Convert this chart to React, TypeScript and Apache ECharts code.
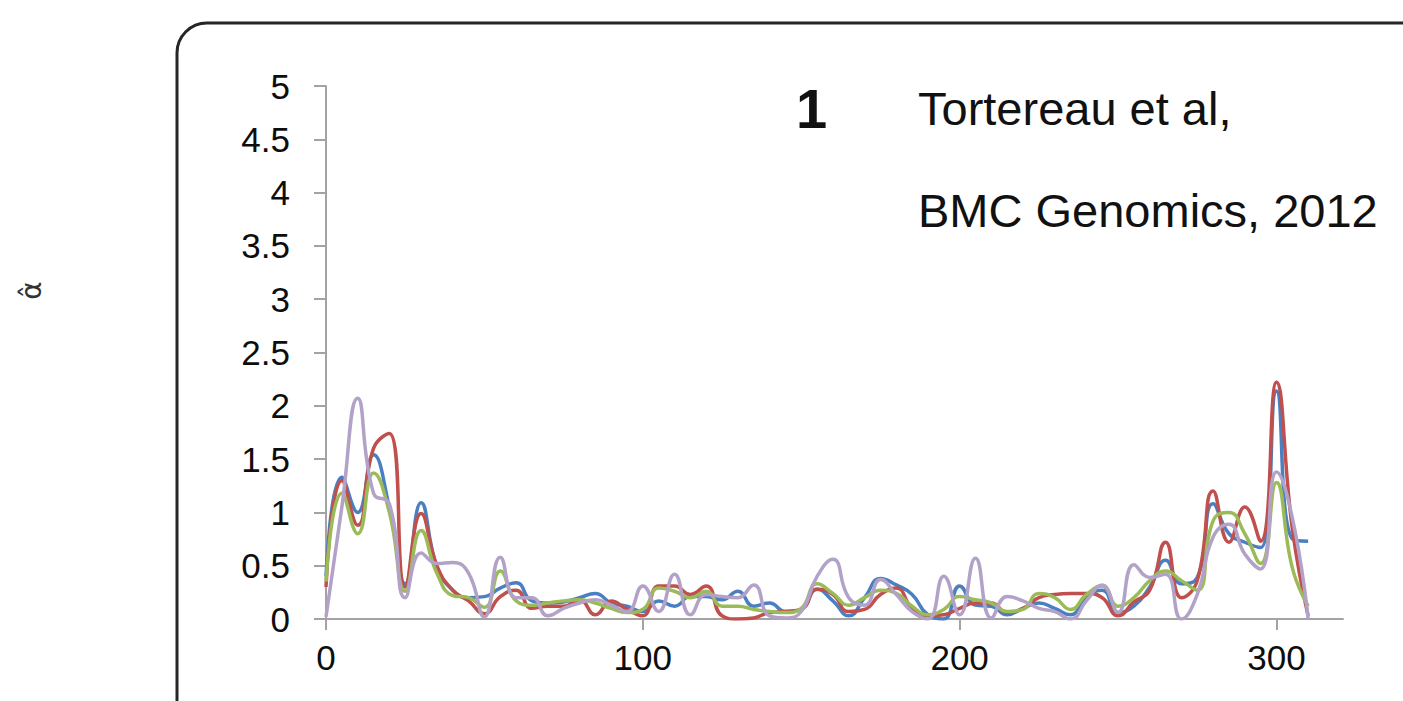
import React, { useEffect, useRef } from "react";
import * as echarts from "echarts";

const positions = [
  0, 5, 10, 15, 20, 25, 30, 35, 40, 45, 50, 55, 60, 65, 70, 75, 80, 85, 90, 95,
  100, 105, 110, 115, 120, 125, 130, 135, 140, 145, 150, 155, 160, 165, 170, 175,
  180, 185, 190, 195, 200, 205, 210, 215, 220, 225, 230, 235, 240, 245, 250, 255,
  260, 265, 270, 275, 280, 285, 290, 295, 300, 305, 310,
];

const blueValues = [
  0.4, 1.33, 1.0, 1.54, 1.05, 0.33, 1.09, 0.49, 0.27, 0.2, 0.21, 0.29, 0.34, 0.17, 0.15, 0.16, 0.2, 0.24, 0.15, 0.12,
  0.07, 0.17, 0.12, 0.21, 0.21, 0.18, 0.26, 0.12, 0.15, 0.07, 0.09, 0.28, 0.17, 0.03, 0.2, 0.38,
  0.32, 0.23, 0.04, 0.0, 0.31, 0.13, 0.12, 0.04, 0.1, 0.15, 0.1, 0.04, 0.21, 0.27, 0.06, 0.12,
  0.3, 0.55, 0.33, 0.39, 1.08, 0.8, 0.72, 0.67, 2.14, 0.75, 0.73,
];

const redValues = [
  0.3, 1.3, 0.88, 1.6, 1.74, 0.3, 0.99, 0.5, 0.27, 0.17, 0.05, 0.21, 0.27, 0.1, 0.12, 0.12, 0.18, 0.04, 0.17, 0.09,
  0.03, 0.31, 0.31, 0.23, 0.31, 0.03, 0.0, 0.01, 0.06, 0.07, 0.09, 0.28, 0.23, 0.07, 0.09, 0.23,
  0.29, 0.1, 0.03, 0.04, 0.1, 0.15, 0.15, 0.06, 0.1, 0.2, 0.23, 0.24, 0.24, 0.2, 0.03, 0.16,
  0.27, 0.72, 0.2, 0.36, 1.2, 0.72, 1.05, 0.73, 2.22, 0.85, 0.03,
];

const greenValues = [
  0.35, 1.18, 0.8, 1.37, 1.0, 0.26, 0.83, 0.43, 0.22, 0.2, 0.11, 0.45, 0.17, 0.13, 0.15, 0.17, 0.18, 0.15, 0.1, 0.06,
  0.09, 0.29, 0.26, 0.2, 0.26, 0.12, 0.12, 0.09, 0.07, 0.06, 0.1, 0.33, 0.24, 0.13, 0.2, 0.27,
  0.24, 0.12, 0.04, 0.09, 0.21, 0.18, 0.15, 0.07, 0.09, 0.24, 0.2, 0.09, 0.23, 0.31, 0.12, 0.2,
  0.36, 0.45, 0.36, 0.27, 0.92, 1.0, 0.8, 0.52, 1.28, 0.48, 0.12,
];

const purpleValues = [
  0.02, 1.05, 2.07, 1.18, 1.08, 0.2, 0.62, 0.52, 0.53, 0.43, 0.02, 0.58, 0.2, 0.2, 0.03, 0.1, 0.15, 0.18, 0.13, 0.07,
  0.31, 0.07, 0.42, 0.04, 0.23, 0.21, 0.2, 0.32, 0.03, 0.01, 0.07, 0.4, 0.56, 0.2, 0.13, 0.37,
  0.23, 0.07, 0.0, 0.4, 0.04, 0.57, 0.01, 0.21, 0.17, 0.1, 0.07, 0.0, 0.17, 0.32, 0.06, 0.51,
  0.39, 0.42, 0.0, 0.23, 0.77, 0.89, 0.61, 0.47, 1.38, 0.95, 0.0,
];

const xTickValues = [0, 100, 200, 300];
const seriesNames = ["Series 1", "Series 2", "Series 3", "Series 4"];
const seriesColors = ["#4a7fc1", "#c0504d", "#9bbb59", "#b3a2c7"];

const titleNumber = "1";
const citationLine1 = "Tortereau et al,";
const citationLine2 = "BMC Genomics, 2012";
const yAxisSymbol = "\u03B1\u0302";

export default function App() {
  const ref = useRef<HTMLDivElement>(null);

  useEffect(() => {
    if (!ref.current) return;
    const chart = echarts.init(ref.current, null, { renderer: "svg" });
    const allValues = [blueValues, redValues, greenValues, purpleValues];
    const series = allValues.map((vals, i) => ({
      name: seriesNames[i],
      type: "line",
      data: positions.map((x, j) => [x, vals[j]]),
      smooth: 0.5,
      showSymbol: false,
      symbol: "none",
      lineStyle: { color: seriesColors[i], width: 3.5 },
      itemStyle: { color: seriesColors[i] },
      z: 2 + i,
    }));

    const font = "'Liberation Sans', Arial, Helvetica, sans-serif";

    chart.setOption({
      animation: false,
      backgroundColor: "#ffffff",
      grid: { left: 326, right: 60, top: 86, bottom: 82, containLabel: false },
      xAxis: {
        type: "value",
        min: 0,
        max: 321,
        splitLine: { show: false },
        axisLine: { show: true, onZero: false, lineStyle: { color: "#a3a3a3", width: 2 } },
        axisTick: {
          show: true,
          customValues: xTickValues,
          length: 11,
          lineStyle: { color: "#a3a3a3", width: 2 },
        },
        axisLabel: {
          customValues: xTickValues,
          fontSize: 35,
          color: "#0d0d0d",
          fontFamily: font,
          margin: 21,
        },
      },
      yAxis: {
        type: "value",
        min: 0,
        max: 5,
        interval: 0.5,
        name: yAxisSymbol,
        nameLocation: "middle",
        nameRotate: 90,
        nameGap: 281,
        nameTextStyle: {
          fontSize: 28,
          fontFamily: "'DejaVu Sans', sans-serif",
          color: "#333333",
          padding: [0, 0, 0, 124],
        },
        splitLine: { show: false },
        axisLine: { show: true, lineStyle: { color: "#a3a3a3", width: 2 } },
        axisTick: { show: true, length: 12, lineStyle: { color: "#a3a3a3", width: 2 } },
        axisLabel: {
          fontSize: 35,
          color: "#0d0d0d",
          fontFamily: font,
          margin: 36,
        },
      },
      series,
      graphic: [
        {
          type: "rect",
          shape: { x: 177, y: 23, width: 1400, height: 1000, r: 30 },
          style: { fill: "none", stroke: "#262626", lineWidth: 3 },
          silent: true,
          z: 100,
        },
        {
          type: "text",
          x: 796,
          y: 108,
          style: {
            text: titleNumber,
            fontSize: 56,
            fontWeight: "bold",
            fontFamily: font,
            fill: "#111111",
            verticalAlign: "middle",
            align: "left",
          },
          z: 100,
        },
        {
          type: "text",
          x: 918,
          y: 108,
          style: {
            text: citationLine1,
            fontSize: 47,
            fontFamily: font,
            fill: "#111111",
            verticalAlign: "middle",
            align: "left",
          },
          z: 100,
        },
        {
          type: "text",
          x: 918,
          y: 210,
          style: {
            text: citationLine2,
            fontSize: 47,
            fontFamily: font,
            fill: "#111111",
            verticalAlign: "middle",
            align: "left",
          },
          z: 100,
        },
      ],
    });

    return () => {
      chart.dispose();
    };
  }, []);

  return (
    <div
      ref={ref}
      style={{ position: "absolute", left: 0, top: 0, width: 1403, height: 701 }}
    />
  );
}
